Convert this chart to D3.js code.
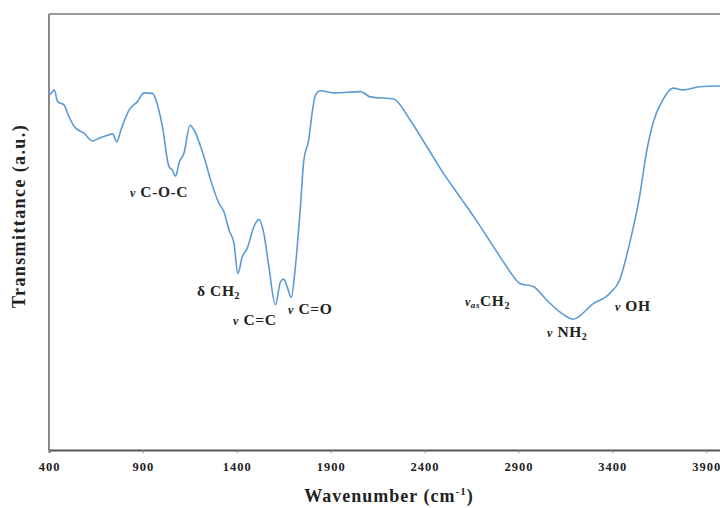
<!DOCTYPE html>
<html><head><meta charset="utf-8">
<script src="https://cdn.jsdelivr.net/npm/d3@7"></script>
<style>body{margin:0;background:#fff}svg{display:block}</style>
</head><body>
<svg id="c" width="720" height="508"></svg>
<script>
const wavenumber = [400,411,428,446,481,499,534,588,632,667,712,738,761,783,827,871,906,951,969,1004,1039,1057,1075,1092,1119,1151,1172,1225,1261,1305,1331,1358,1385,1406,1429,1456,1491,1517,1544,1571,1606,1633,1650,1668,1690,1712,1739,1757,1783,1801,1819,1845,1916,2058,2111,2235,2323,2412,2500,2589,2678,2802,2855,2908,2979,3050,3120,3191,3297,3386,3439,3492,3545,3581,3616,3669,3723,3776,3865,3971,4000];
const transmittance = [81.5,81.8,82.6,79.9,79.1,77.2,74.2,72.6,70.9,71.5,72.2,72.5,70.7,73.4,78.0,79.9,81.9,81.8,80.3,74.2,65.0,64.2,62.8,65.8,68.1,74.5,73.4,67.3,61.9,56.6,54.7,50.5,47.4,40.5,44.3,46.3,51.2,52.9,49.7,42.0,33.3,38.6,39.2,37.5,35.0,42.0,55.8,66.5,71.1,77.2,81.4,82.4,81.9,82.2,81.0,80.5,75.7,69.6,63.5,58.0,52.5,44.3,40.9,38.2,37.5,34.4,31.7,30.0,33.5,35.9,39.0,47.4,58.1,68.1,74.9,80.3,83.0,82.6,83.3,83.5,83.4];
const xTicks = [400,900,1400,1900,2400,2900,3400,3900];
const annotations = [
  {nu:"ν", sub:"", main:" C-O-C", w:831, t:58.0},
  {nu:"δ", sub:"", main:" CH", sub2:"2", w:1188, t:35.3},
  {nu:"ν", sub:"", main:" C=C", w:1380, t:28.7},
  {nu:"ν", sub:"", main:" C=O", w:1673, t:31.2},
  {nu:"ν", sub:"as", main:"CH", sub2:"2", w:2615, t:33.0},
  {nu:"ν", sub:"", main:" NH", sub2:"2", w:3052, t:25.9},
  {nu:"ν", sub:"", main:" OH", w:3414, t:31.9}
];

const svg = d3.select("#c");
const L = 49, R = 725, T = 14, B = 450;
const x = d3.scaleLinear().domain([400,4000]).range([L,R]);
const y = d3.scaleLinear().domain([0,100]).range([B,T]);
const serif = "'Liberation Serif','Times New Roman',serif";

// frame
svg.append("line").attr("x1",L).attr("x2",R).attr("y1",T).attr("y2",T).attr("stroke","#999").attr("stroke-width",2);
svg.append("line").attr("x1",L).attr("x2",L).attr("y1",T).attr("y2",B).attr("stroke","#888").attr("stroke-width",2);

const xa = svg.append("g").attr("transform",`translate(0,${B})`)
  .call(d3.axisBottom(x).tickValues(xTicks).tickSize(3).tickPadding(9).tickFormat(d3.format("d")));
xa.select(".domain").attr("stroke","#555").attr("stroke-width",2);
xa.selectAll(".tick line").attr("stroke","#888");
xa.selectAll(".tick text").attr("font-family",serif).attr("font-weight","bold").attr("font-size",12.5)
  .attr("letter-spacing",1).attr("fill","#222");

// line
svg.append("path").datum(wavenumber.map((w,i)=>[w,transmittance[i]]))
  .attr("fill","none").attr("stroke","#5b9bd5").attr("stroke-width",1.6).attr("stroke-linejoin","round")
  .attr("d", d3.line().x(d=>x(d[0])).y(d=>y(d[1])).curve(d3.curveMonotoneX));

// annotations
annotations.forEach(a=>{
  const t = svg.append("text").attr("x",x(a.w)).attr("y",y(a.t))
    .attr("font-family",serif).attr("font-weight","bold").attr("font-size",15.5).attr("letter-spacing",0.6).attr("fill","#222");
  t.append("tspan").text(a.nu).attr("font-style", a.nu==="ν"?"italic":"normal").attr("font-size", a.nu==="ν"?12:15.5);
  if (a.sub) t.append("tspan").text(a.sub).attr("font-size",9).attr("font-style","italic").attr("dy",2);
  t.append("tspan").text(a.main).attr("dy", a.sub?-2:0);
  if (a.sub2) t.append("tspan").text(a.sub2).attr("font-size",10).attr("dy",3);
});

// titles
svg.append("text").attr("transform","translate(25,216) rotate(-90)").attr("text-anchor","middle")
  .attr("font-family",serif).attr("font-weight","bold").attr("font-size",18).attr("letter-spacing",1.4).attr("fill","#222")
  .text("Transmittance (a.u.)");
const xt = svg.append("text").attr("x",389).attr("y",502).attr("text-anchor","middle")
  .attr("font-family",serif).attr("font-weight","bold").attr("font-size",18).attr("letter-spacing",1).attr("fill","#222");
xt.append("tspan").text("Wavenumber (cm");
xt.append("tspan").text("-1").attr("font-size",11).attr("dy",-7);
xt.append("tspan").text(")").attr("dy",7);
</script>
</body></html>
